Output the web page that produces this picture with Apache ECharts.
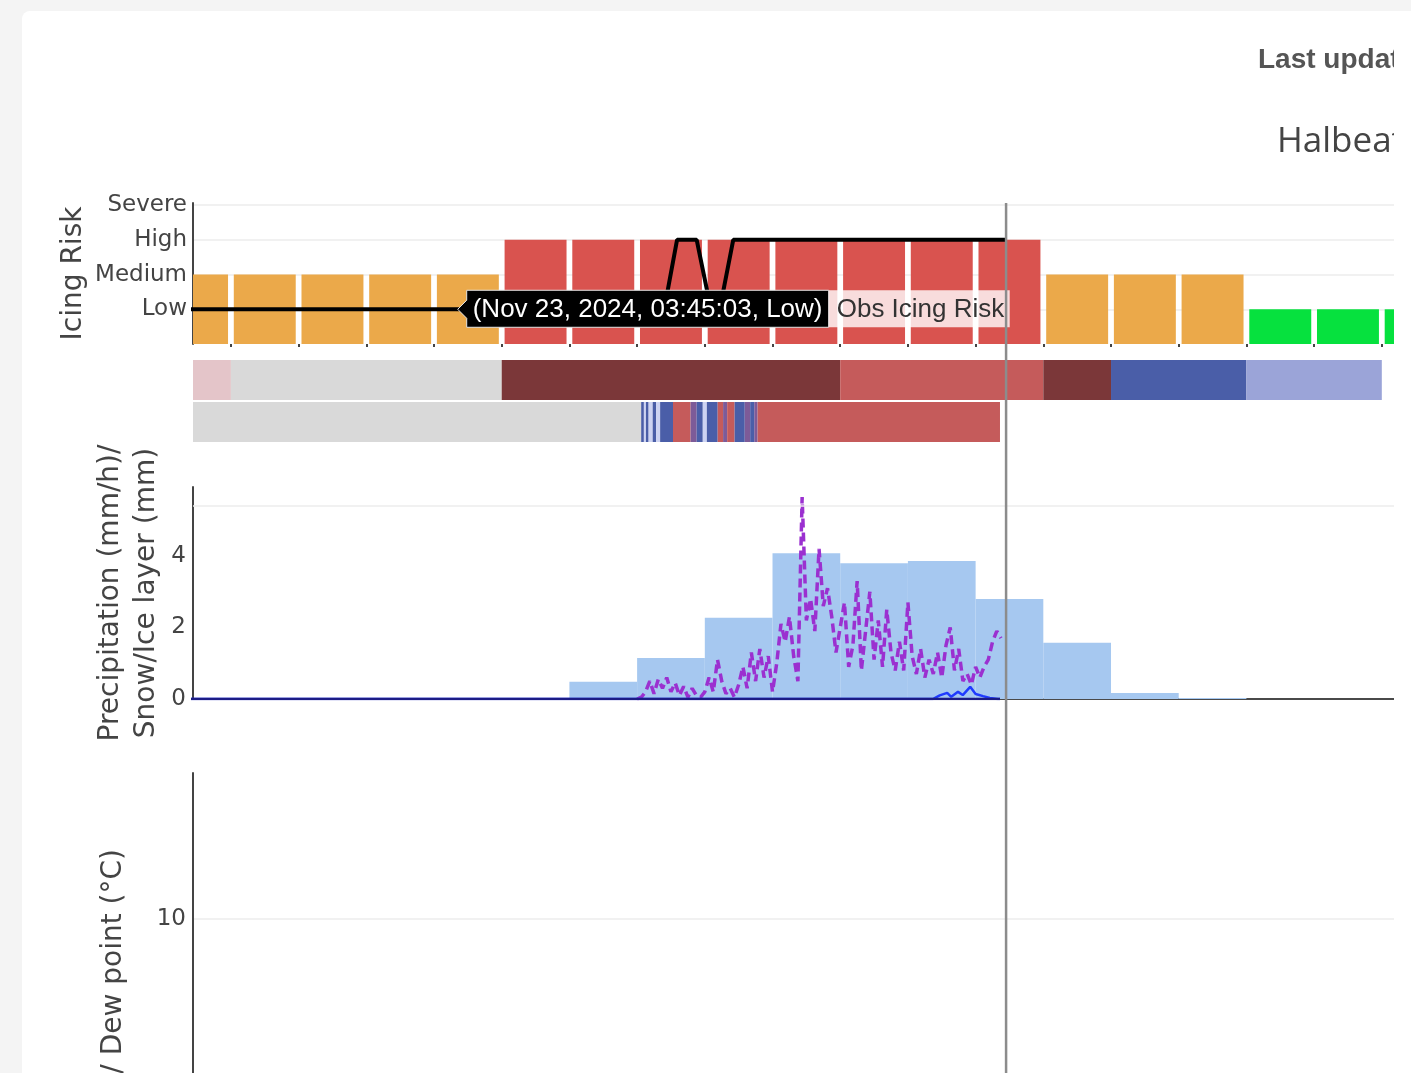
<!DOCTYPE html>
<html>
<head>
<meta charset="utf-8">
<title>Icing risk</title>
<script src="https://cdn.jsdelivr.net/npm/echarts@6/dist/echarts.min.js"></script>
<style>
  html, body { margin: 0; padding: 0; width: 1411px; height: 1073px; overflow: hidden; background: #f4f4f4; }
  #card { position: absolute; left: 22px; top: 11px; width: 1389px; height: 1400px; background: #fff; border-radius: 8px 0 0 0; }
  #chart { position: absolute; left: 0; top: 0; width: 1394px; height: 1400px; }
</style>
</head>
<body>
<div id="card"></div>
<div id="chart"></div>
<script>
// x axis is in hours, 0 = first hour tick
const tickHours = [0, 1, 2, 3, 4, 5, 6, 7, 8, 9, 10, 11, 12, 13, 14, 15, 16, 17];
const nowHour = 11.45;

// icing risk levels (y tick labels)
const riskLevels = ['', 'Low', 'Medium', 'High', 'Severe'];
const riskColors = { 1: '#06e13e', 2: '#eba94a', 3: '#d9534f' };

// forecast icing risk, one bar per hour starting at hour -1
const forecastHours = [-1, 0, 1, 2, 3, 4, 5, 6, 7, 8, 9, 10, 11, 12, 13, 14, 15, 16, 17];
const forecastRisk = [2, 2, 2, 2, 2, 3, 3, 3, 3, 3, 3, 3, 3, 2, 2, 2, 1, 1, 1];

// observed icing risk
const obsRiskHours = [-1, 6.40, 6.59, 6.88, 7.09, 7.22, 7.42, 11.45];
const obsRiskValues = [1, 1, 3, 3, 1, 1, 3, 3];

// hovered point
const hoverHour = 3.35;
const hoverRisk = 1;
const hoverText = '(Nov 23, 2024, 03:45:03, Low)';
const hoverName = 'Obs Icing Risk';

// precipitation type colours
const typeColors = ['#d9d9d9', '#e4c5c9', '#7b3739', '#c55b5b', '#4a5ea8', '#9ba4d8', '#cdd3f2', '#7d5b98'];

// forecast precipitation type (top strip)
const fcTypeStart = [-1, 0, 4, 9, 12, 13, 15];
const fcTypeEnd = [0, 4, 9, 12, 13, 15, 17];
const fcTypeCode = [1, 0, 2, 3, 2, 4, 5];

// observed precipitation type (bottom strip)
const obsTypeStart = [-1, 6.06, 6.10, 6.13, 6.17, 6.23, 6.28, 6.34, 6.53, 6.79, 6.88, 6.97, 7.03, 7.19, 7.27, 7.33, 7.44, 7.59, 7.67, 7.73, 7.78];
const obsTypeEnd = [6.06, 6.10, 6.13, 6.17, 6.23, 6.28, 6.34, 6.53, 6.79, 6.88, 6.97, 7.03, 7.19, 7.27, 7.33, 7.44, 7.59, 7.67, 7.73, 7.78, 11.36];
const obsTypeCode = [0, 4, 6, 4, 6, 4, 6, 4, 3, 7, 4, 6, 4, 3, 7, 3, 4, 7, 4, 7, 3];

// forecast precipitation (mm/h), hourly
const precipForecast = [0, 0, 0, 0, 0, 0, 0.48, 1.15, 2.27, 4.08, 3.80, 3.86, 2.80, 1.57, 0.17, 0.03, 0, 0, 0];

// observed precipitation (mm/h), every 3.75 min from hour 6
const obsPrecipStart = 6.0;
const obsPrecipStep = 0.0625;
const obsPrecip = [
  0, 0.05, 0.2, 0.5, 0.15, 0.55, 0.3, 0.6, 0.2, 0.45,
  0.1, 0.35, 0.05, 0.3, 0.1, 0.05, 0.2, 0.6, 0.2, 1.1,
  0.5, 0.15, 0.3, 0.05, 0.4, 0.9, 0.3, 1.3, 0.5, 1.4,
  0.6, 1.2, 0.2, 1.0, 2.1, 1.6, 2.3, 1.2, 0.5, 5.65,
  2.2, 2.8, 1.9, 4.2, 2.6, 3.1, 2.3, 1.3, 2.0, 2.7,
  0.9, 1.5, 3.3, 0.8, 1.9, 3.0, 1.1, 2.2, 0.9, 2.5,
  1.3, 0.8, 1.6, 0.8, 2.7, 1.2, 0.7, 1.4, 0.6, 1.1,
  0.7, 1.3, 0.6, 1.5, 2.0, 0.8, 1.4, 0.5, 0.7, 0.4,
  0.9, 0.6, 0.9, 1.1, 1.6, 1.9, 1.7
];

// snow / ice layer (mm)
const iceHours = [-1, 10.30, 10.37, 10.47, 10.58, 10.64, 10.74, 10.81, 10.92, 11.00, 11.11, 11.21, 11.33, 11.36];
const iceValues = [0, 0, 0, 0.10, 0.17, 0.06, 0.20, 0.11, 0.34, 0.14, 0.08, 0.03, 0, 0];

const chartEl = document.getElementById('chart');
const chart = echarts.init(chartEl);

const xMin = -0.56, xMax = 17.18;
const gridLeft = 193;
const hourPx = (chartEl.clientWidth - gridLeft) / (xMax - xMin);

const tickFont = { fontFamily: 'DejaVu Sans', fontSize: 23, color: '#444', padding: [4, 0, 0, 0] };
const nameFont = { fontFamily: 'DejaVu Sans', fontSize: 28, color: '#444', lineHeight: 36 };
const yLine = { show: true, onZero: false, lineStyle: { color: '#444', width: 2 } };

const xAxisFor = (gridIndex, extra) => Object.assign({
  type: 'value', gridIndex, min: xMin, max: xMax,
  axisLabel: { show: false }, axisTick: { show: false },
  axisLine: { show: false }, splitLine: { show: false }
}, extra);

const clipToGrid = (rect, params) => echarts.graphic.clipRectByRect(rect, {
  x: params.coordSys.x, y: params.coordSys.y,
  width: params.coordSys.width, height: params.coordSys.height
});

const stripData = [];
fcTypeStart.forEach((s, i) => stripData.push([s, fcTypeEnd[i], 1, fcTypeCode[i]]));
obsTypeStart.forEach((s, i) => stripData.push([s, obsTypeEnd[i], 0, obsTypeCode[i]]));

chart.setOption({
  animation: false,
  grid: [
    { left: gridLeft, right: 0, top: 203, height: 141, outerBoundsMode: 'none' },
    { left: gridLeft, right: 0, top: 359, height: 84, outerBoundsMode: 'none' },
    { left: gridLeft, right: 0, top: 487, height: 212, outerBoundsMode: 'none' },
    { left: gridLeft, right: 0, top: 773, height: 563, outerBoundsMode: 'none' }
  ],
  xAxis: [
    xAxisFor(0, {
      axisLabel: { show: false, customValues: tickHours },
      axisTick: { show: true, customValues: tickHours, length: 3, lineStyle: { color: '#444', width: 2 } }
    }),
    xAxisFor(1),
    xAxisFor(2, { axisLine: { show: true, onZero: true, lineStyle: { color: '#4a4a4a', width: 2 } } }),
    xAxisFor(3)
  ],
  yAxis: [
    {
      type: 'value', gridIndex: 0, min: 0, max: 4.06, interval: 1,
      axisLine: yLine, axisTick: { show: false },
      axisLabel: Object.assign({ margin: 6, showMaxLabel: false, formatter: (v) => riskLevels[v] || '' }, tickFont),
      splitLine: { show: true, showMinLine: false, showMaxLine: false, lineStyle: { color: '#ececec', width: 1.5 } },
      name: 'Icing Risk', nameLocation: 'middle', nameRotate: 90, nameGap: 101, nameMoveOverlap: false,
      nameTextStyle: nameFont
    },
    { type: 'category', gridIndex: 1, data: ['obs', 'fc'], show: false },
    {
      type: 'value', gridIndex: 2, min: 0, max: 5.93, interval: 2,
      axisLine: yLine, axisTick: { show: false },
      axisLabel: Object.assign({ margin: 7, showMaxLabel: false }, tickFont),
      splitLine: { show: false },
      name: 'Precipitation (mm/h)/\nSnow/Ice layer (mm)', nameLocation: 'middle', nameRotate: 90, nameGap: 28,
      nameMoveOverlap: false, nameTextStyle: nameFont
    },
    {
      type: 'value', gridIndex: 3, min: -10, max: 17, interval: 10,
      axisLine: yLine, axisTick: { show: false },
      axisLabel: Object.assign({ margin: 7, showMaxLabel: false, showMinLabel: false }, tickFont),
      splitLine: { show: true, showMinLine: false, showMaxLine: false, lineStyle: { color: '#ececec', width: 1.5 } },
      name: 'Temperature / Dew point (°C)', nameLocation: 'middle', nameRotate: 90, nameGap: 61,
      nameMoveOverlap: false, nameTextStyle: nameFont
    }
  ],
  series: [
    {
      name: 'Forecast Icing Risk', type: 'custom', xAxisIndex: 0, yAxisIndex: 0,
      encode: { x: 0, y: 1 },
      data: forecastHours.map((h, i) => [h + 0.5, forecastRisk[i]]),
      renderItem: (params, api) => {
        const top = api.coord([api.value(0), api.value(1)]);
        const base = api.coord([api.value(0), 0]);
        const w = api.size([1, 0])[0] * 0.915;
        const rect = clipToGrid({ x: top[0] - w / 2, y: top[1], width: w, height: base[1] - top[1] }, params);
        return rect && { type: 'rect', shape: rect, style: { fill: riskColors[api.value(1)] } };
      }
    },
    {
      name: 'Obs Icing Risk', type: 'line', xAxisIndex: 0, yAxisIndex: 0, z: 5,
      symbol: 'none', lineStyle: { color: '#000', width: 4 },
      data: obsRiskHours.map((h, i) => [h, obsRiskValues[i]])
    },
    {
      name: 'Precipitation type', type: 'custom', xAxisIndex: 1, yAxisIndex: 1,
      encode: { x: [0, 1], y: 2 },
      data: stripData,
      renderItem: (params, api) => {
        const p0 = api.coord([api.value(0), api.value(2)]);
        const p1 = api.coord([api.value(1), api.value(2)]);
        const h = api.size([0, 1])[1] - 2;
        const rect = clipToGrid({ x: p0[0], y: p0[1] - h / 2, width: p1[0] - p0[0], height: h }, params);
        return rect && { type: 'rect', shape: rect, style: { fill: typeColors[api.value(3)] } };
      }
    },
    {
      name: 'Forecast Precipitation', type: 'bar', xAxisIndex: 2, yAxisIndex: 2,
      barWidth: hourPx, itemStyle: { color: '#a6c8f0' },
      data: forecastHours.map((h, i) => [h + 0.5, precipForecast[i]]),
      markLine: {
        silent: true, symbol: 'none', label: { show: false },
        lineStyle: { color: '#ececec', width: 1.5, type: 'solid' },
        data: [{ yAxis: 5.4 }]
      }
    },
    {
      name: 'Obs Precipitation', type: 'line', xAxisIndex: 2, yAxisIndex: 2, z: 4,
      symbol: 'none',
      lineStyle: { color: '#9b30d0', width: 3.5, type: [9, 5] },
      data: obsPrecip.map((v, i) => [obsPrecipStart + i * obsPrecipStep, v])
    },
    {
      name: 'Snow/Ice layer', type: 'line', xAxisIndex: 2, yAxisIndex: 2, z: 5,
      symbol: 'none', lineStyle: { color: '#1f3bff', width: 2.5 },
      data: iceHours.map((h, i) => [h, iceValues[i]])
    },
    {
      name: 'Obs Snow/Ice layer', type: 'line', xAxisIndex: 2, yAxisIndex: 2, z: 6,
      symbol: 'none', lineStyle: { color: '#1c1c86', width: 2.5 },
      data: [[-1, 0], [obsTypeEnd[obsTypeEnd.length - 1], 0]]
    },
    { name: 'Temperature', type: 'line', xAxisIndex: 3, yAxisIndex: 3, data: [] }
  ]
});

// overlays: now line, hover label, header texts
const nowX = chart.convertToPixel({ xAxisIndex: 0 }, nowHour);
const topY = chart.convertToPixel({ yAxisIndex: 0 }, 4.06);
const tip = chart.convertToPixel({ gridIndex: 0 }, [hoverHour, hoverRisk]);
const tipFont = { fontFamily: 'Liberation Sans', fontSize: 26, verticalAlign: 'middle' };

chart.setOption({
  graphic: [
    {
      type: 'text', x: 1258, y: 60, z: 50,
      style: { text: 'Last updated', fill: '#555', fontFamily: 'Liberation Sans', fontWeight: 'bold', fontSize: 28, verticalAlign: 'middle' }
    },
    {
      type: 'text', x: 1277, y: 142, z: 50,
      style: { text: 'Halbeath', fill: '#444', fontFamily: 'Open Sans', fontSize: 35, verticalAlign: 'middle' }
    },
    {
      type: 'polygon', x: tip[0], y: tip[1], z: 150,
      shape: { points: [[0, 0], [9, -9], [9, -19], [371, -19], [371, 18], [9, 18], [9, 9]] },
      style: { fill: '#000', stroke: '#e6e6e6', lineWidth: 1 }
    },
    {
      type: 'text', x: tip[0] + 15, y: tip[1] + 1, z: 151,
      style: Object.assign({ text: hoverText, fill: '#fff' }, tipFont)
    },
    {
      type: 'rect', x: tip[0], y: tip[1], z: 150,
      shape: { x: 371, y: -19, width: 181, height: 37 },
      style: { fill: 'rgba(255,255,255,0.8)' }
    },
    {
      type: 'text', x: tip[0] + 379, y: tip[1] + 1, z: 151,
      style: Object.assign({ text: hoverName, fill: '#333' }, tipFont)
    },
    {
      type: 'line', z: 200,
      shape: { x1: nowX, y1: topY, x2: nowX, y2: 1400 },
      style: { stroke: '#8c8c8c', lineWidth: 2.5 }
    }
  ]
});
</script>
</body>
</html>
